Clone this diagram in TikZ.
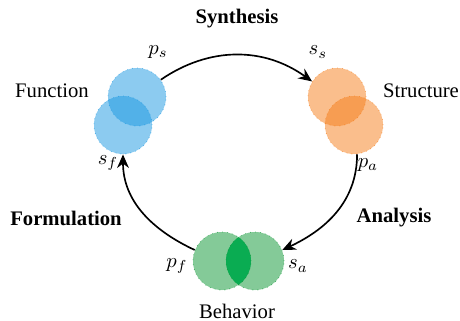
\documentclass[tikz,border=0pt]{standalone}
\usepackage{fontspec}
\setmainfont{Liberation Serif}
\usetikzlibrary{arrows.meta,positioning}
\definecolor{funblue}{RGB}{25,151,225}
\definecolor{strorange}{RGB}{245,125,25}
\definecolor{behgreen}{RGB}{10,150,50}
\definecolor{behdark}{RGB}{0,172,80}
\begin{document}
\begin{tikzpicture}[x=0.017cm,y=0.017cm,
	blob/.style={circle,minimum size=0.986cm,inner sep=0pt,fill opacity=0.5},
	rim/.style={dotted,thin,draw opacity=0.6},
	flow/.style={-{Stealth[length=2.3mm,width=2mm]},thick},
	phase/.style={font=\bfseries}]
	\useasboundingbox (0,0) rectangle (460,320);
	% circles
	\node[blob,fill=funblue] (fu1) at (137,223) {};
	\node[blob,fill=funblue] (fu2) at (123,195) {};
	\node[blob,fill=strorange] (st1) at (337,223) {};
	\node[blob,fill=strorange] (st2) at (354,195) {};
	\node[blob,fill=behgreen] (be1) at (222,59) {};
	\node[blob,fill=behgreen] (be2) at (255,59) {};
	\begin{scope}
		\clip (be1.center) circle (29);
		\fill[behdark,fill opacity=0.85] (be2.center) circle (29);
	\end{scope}
	\foreach \n/\c in {fu1/funblue,fu2/funblue,st1/strorange,st2/strorange,be1/behgreen,be2/behgreen}
		\draw[rim,draw=\c] (\n.center) circle (29);
	% names
	\node (fun) at (52,229) {Function};
	\node (str) at (421,229) {Structure};
	\node (beh) at (237,9) {Behavior};
	\node[phase] (syn) at (237,301) {Synthesis};
	\node[phase] (form) at (66,102) {Formulation};
	\node[phase] (ana) at (394,102) {Analysis};
	% ports
	\node (ps) at (158,268) {$p_s$};
	\node (ss) at (318,268) {$s_s$};
	\node (sf) at (108,157) {$s_f$};
	\node (pa) at (368,155) {$p_a$};
	\node (pf) at (177,54) {$p_f$};
	\node (sa) at (298,54) {$s_a$};
	% arrows
	\draw[flow] (fu1.36) to[bend left=35] (st1.148);
	\draw[flow] (st2.-84) to[out=-90,in=25] (be2.22);
	\draw[flow] (be1.158) to[out=155,in=-90] (fu2.-90);
\end{tikzpicture}
\end{document}
